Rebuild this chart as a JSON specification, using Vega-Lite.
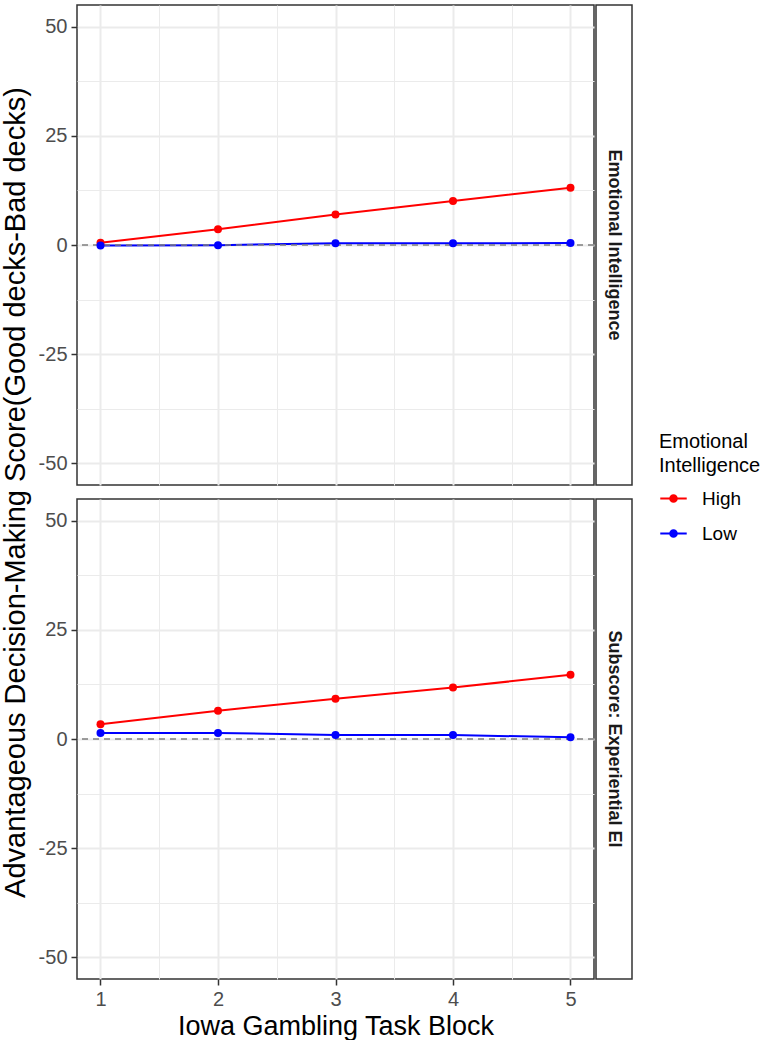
{
  "$schema": "https://vega.github.io/schema/vega-lite/v6.json",
  "padding": {"left": 0, "top": 4, "right": 0, "bottom": 0},
  "data": {
    "values": [
      {"panel": "Emotional Intelligence", "group": "High", "block": 1, "score": 0.5},
      {"panel": "Emotional Intelligence", "group": "High", "block": 2, "score": 3.6},
      {"panel": "Emotional Intelligence", "group": "High", "block": 3, "score": 7.0},
      {"panel": "Emotional Intelligence", "group": "High", "block": 4, "score": 10.1},
      {"panel": "Emotional Intelligence", "group": "High", "block": 5, "score": 13.1},
      {"panel": "Emotional Intelligence", "group": "Low", "block": 1, "score": -0.1},
      {"panel": "Emotional Intelligence", "group": "Low", "block": 2, "score": -0.05},
      {"panel": "Emotional Intelligence", "group": "Low", "block": 3, "score": 0.4},
      {"panel": "Emotional Intelligence", "group": "Low", "block": 4, "score": 0.4},
      {"panel": "Emotional Intelligence", "group": "Low", "block": 5, "score": 0.45},
      {"panel": "Subscore: Experiential EI", "group": "High", "block": 1, "score": 3.4},
      {"panel": "Subscore: Experiential EI", "group": "High", "block": 2, "score": 6.5},
      {"panel": "Subscore: Experiential EI", "group": "High", "block": 3, "score": 9.2},
      {"panel": "Subscore: Experiential EI", "group": "High", "block": 4, "score": 11.8},
      {"panel": "Subscore: Experiential EI", "group": "High", "block": 5, "score": 14.7},
      {"panel": "Subscore: Experiential EI", "group": "Low", "block": 1, "score": 1.4},
      {"panel": "Subscore: Experiential EI", "group": "Low", "block": 2, "score": 1.4},
      {"panel": "Subscore: Experiential EI", "group": "Low", "block": 3, "score": 0.9},
      {"panel": "Subscore: Experiential EI", "group": "Low", "block": 4, "score": 0.9},
      {"panel": "Subscore: Experiential EI", "group": "Low", "block": 5, "score": 0.4}
    ]
  },
  "spacing": -4.5,
  "hconcat": [
    {
      "bounds": "flush",
      "spacing": 14,
      "vconcat": [
        {
          "width": 517,
          "height": 480,
          "transform": [{"filter": "datum.panel == 'Emotional Intelligence'"}],
          "encoding": {
            "x": {
              "field": "block",
              "type": "quantitative",
              "scale": {"domain": [0.8, 5.2], "nice": false, "zero": false},
              "axis": {
                "title": null,
                "labels": false,
                "ticks": false,
                "values": [1, 1.5, 2, 2.5, 3, 3.5, 4, 4.5, 5],
                "gridWidth": {"condition": {"test": "datum.value % 1 !== 0", "value": 1}, "value": 2}
              }
            },
            "y": {
              "field": "score",
              "type": "quantitative",
              "scale": {"domain": [-55, 55], "nice": false, "zero": false},
              "axis": {
                "title": "Advantageous Decision-Making Score(Good decks-Bad decks)",
                "titleFontSize": 29,
                "titleX": -47,
                "titleY": 487,
                "values": [-50, -37.5, -25, -12.5, 0, 12.5, 25, 37.5, 50],
                "labelExpr": "datum.value % 25 === 0 ? '' + datum.value : ''",
                "tickOpacity": {"condition": {"test": "datum.value % 25 !== 0", "value": 0}, "value": 1},
                "gridWidth": {"condition": {"test": "datum.value % 25 !== 0", "value": 1}, "value": 2}
              }
            }
          },
          "layer": [
            {
              "mark": {"type": "line", "strokeWidth": 2},
              "encoding": {
                "color": {"field": "group", "type": "nominal", "scale": {"domain": ["High", "Low"], "range": ["#FF0000", "#0000FF"]}}
              }
            },
            {
              "data": {"values": [{"ref": 0}]},
              "mark": {"type": "rule", "color": "#7F7F7F", "strokeWidth": 1.3, "strokeDash": [6, 5]},
              "encoding": {"y": {"field": "ref", "type": "quantitative"}, "x": null}
            },
            {
              "mark": {"type": "point", "filled": true, "size": 64, "opacity": 1},
              "encoding": {
                "color": {
                  "field": "group",
                  "type": "nominal",
                  "scale": {"domain": ["High", "Low"], "range": ["#FF0000", "#0000FF"]},
                  "legend": {
                    "title": ["Emotional", "Intelligence"],
                    "orient": "none",
                    "legendX": 582,
                    "legendY": 427,
                    "symbolType": "M -1 0 L 1 0 M -0.25 0 A 0.25 0.25 0 1 0 0.25 0 A 0.25 0.25 0 1 0 -0.25 0",
                    "symbolSize": 700,
                    "symbolStrokeWidth": 2,
                    "encode": {
                      "symbols": {
                        "update": {
                          "fill": {"scale": "color", "field": "value"},
                          "stroke": {"scale": "color", "field": "value"},
                          "opacity": {"value": 1}
                        }
                      }
                    }
                  }
                }
              }
            }
          ]
        },
        {
          "width": 517,
          "height": 480,
          "transform": [{"filter": "datum.panel == 'Subscore: Experiential EI'"}],
          "encoding": {
            "x": {
              "field": "block",
              "type": "quantitative",
              "scale": {"domain": [0.8, 5.2], "nice": false, "zero": false},
              "axis": {
                "title": "Iowa Gambling Task Block",
                "titleFontSize": 27,
                "values": [1, 1.5, 2, 2.5, 3, 3.5, 4, 4.5, 5],
                "labelExpr": "datum.value % 1 === 0 ? '' + datum.value : ''",
                "tickOpacity": {"condition": {"test": "datum.value % 1 !== 0", "value": 0}, "value": 1},
                "gridWidth": {"condition": {"test": "datum.value % 1 !== 0", "value": 1}, "value": 2}
              }
            },
            "y": {
              "field": "score",
              "type": "quantitative",
              "scale": {"domain": [-55, 55], "nice": false, "zero": false},
              "axis": {
                "title": null,
                "values": [-50, -37.5, -25, -12.5, 0, 12.5, 25, 37.5, 50],
                "labelExpr": "datum.value % 25 === 0 ? '' + datum.value : ''",
                "tickOpacity": {"condition": {"test": "datum.value % 25 !== 0", "value": 0}, "value": 1},
                "gridWidth": {"condition": {"test": "datum.value % 25 !== 0", "value": 1}, "value": 2}
              }
            }
          },
          "layer": [
            {
              "mark": {"type": "line", "strokeWidth": 2},
              "encoding": {
                "color": {"field": "group", "type": "nominal", "scale": {"domain": ["High", "Low"], "range": ["#FF0000", "#0000FF"]}}
              }
            },
            {
              "data": {"values": [{"ref": 0}]},
              "mark": {"type": "rule", "color": "#7F7F7F", "strokeWidth": 1.3, "strokeDash": [6, 5]},
              "encoding": {"y": {"field": "ref", "type": "quantitative"}, "x": null}
            },
            {
              "mark": {"type": "point", "filled": true, "size": 64, "opacity": 1},
              "encoding": {
                "color": {"field": "group", "type": "nominal", "scale": {"domain": ["High", "Low"], "range": ["#FF0000", "#0000FF"]}}
              }
            }
          ]
        }
      ]
    },
    {
      "bounds": "flush",
      "spacing": 14,
      "vconcat": [
        {
          "width": 36,
          "height": 480,
          "transform": [
            {"filter": "datum.panel == 'Emotional Intelligence'"},
            {"aggregate": [{"op": "count", "as": "n"}], "groupby": ["panel"]}
          ],
          "layer": [
            {
              "mark": {"type": "rect", "fill": "white", "stroke": "#333333", "strokeWidth": 1.5},
              "encoding": {}
            },
            {
              "mark": {"type": "text", "angle": 90, "fontSize": 18, "fontWeight": "bold", "color": "#1A1A1A", "align": "center", "baseline": "middle"},
              "encoding": {"text": {"field": "panel", "type": "nominal"}}
            }
          ]
        },
        {
          "width": 36,
          "height": 480,
          "transform": [
            {"filter": "datum.panel == 'Subscore: Experiential EI'"},
            {"aggregate": [{"op": "count", "as": "n"}], "groupby": ["panel"]}
          ],
          "layer": [
            {
              "mark": {"type": "rect", "fill": "white", "stroke": "#333333", "strokeWidth": 1.5},
              "encoding": {}
            },
            {
              "mark": {"type": "text", "angle": 90, "fontSize": 18, "fontWeight": "bold", "color": "#1A1A1A", "align": "center", "baseline": "middle"},
              "encoding": {"text": {"field": "panel", "type": "nominal"}}
            }
          ]
        }
      ]
    }
  ],
  "config": {
    "font": "Liberation Sans",
    "view": {"stroke": "#333333", "strokeWidth": 1.5, "fill": "white"},
    "axis": {
      "domain": false,
      "grid": true,
      "gridColor": "#EBEBEB",
      "tickColor": "#333333",
      "tickSize": 6,
      "tickWidth": 1.5,
      "labelColor": "#4D4D4D",
      "labelFontSize": 20,
      "labelPadding": 4,
      "titleFontSize": 26.5,
      "titleFontWeight": "normal",
      "titleColor": "#000000"
    },
    "axisX": {"titlePadding": 4},
    "legend": {
      "titleFontSize": 20,
      "titleFontWeight": "normal",
      "titleColor": "#000000",
      "titleLineHeight": 24,
      "titlePadding": 8,
      "labelFontSize": 19,
      "labelColor": "#000000",
      "labelOffset": 14,
      "rowPadding": 10
    }
  }
}
